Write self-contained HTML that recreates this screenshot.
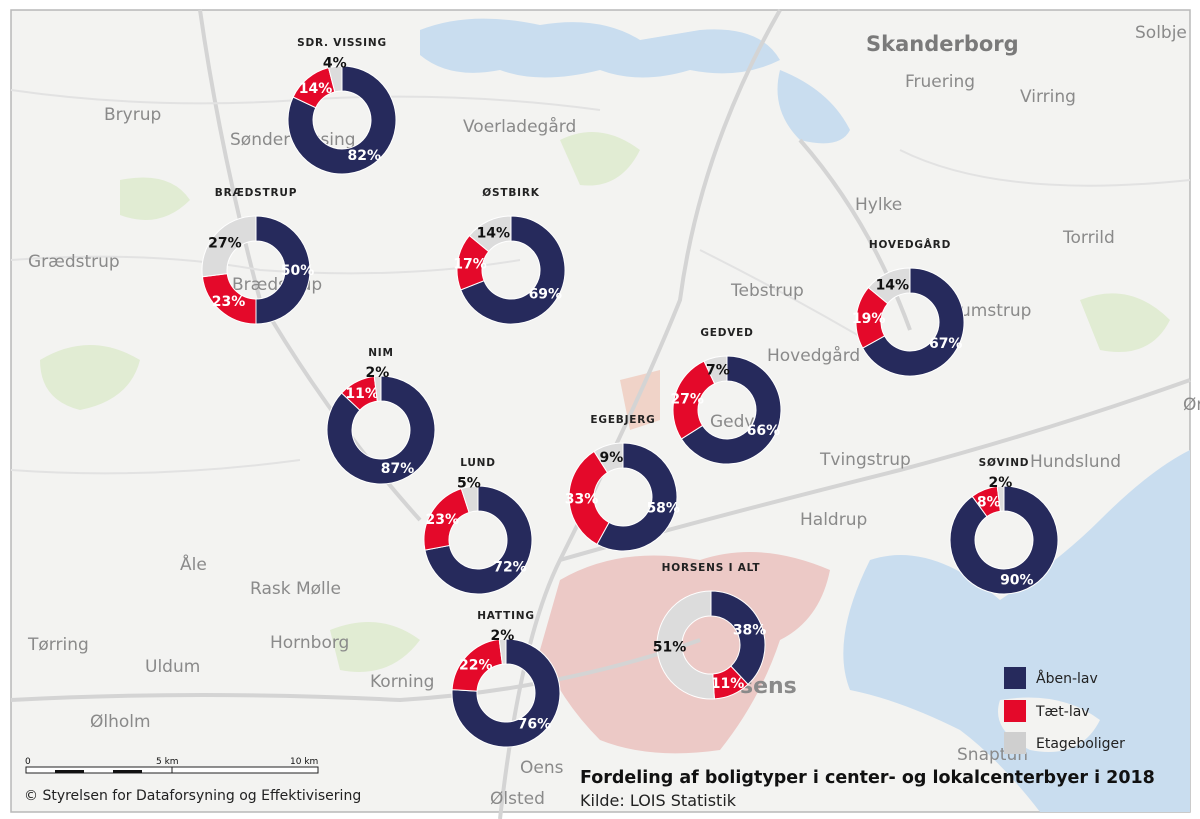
<!DOCTYPE html>
<html><head><meta charset="utf-8"><style>
html,body{margin:0;padding:0;background:#fff}
svg{display:block}
text{font-family:"DejaVu Sans","Liberation Sans",sans-serif}
</style></head><body>
<svg id="map" width="1200" height="819" viewBox="0 0 1200 819">
<rect x="0" y="0" width="1200" height="819" fill="#fff"/>
<g>
<rect x="11" y="10" width="1179" height="802" fill="#f3f3f1" stroke="#b8b8b8" stroke-width="1.5"/>
<path d="M420 30 Q470 10 540 25 Q600 15 640 40 L700 30 Q760 25 780 60 Q740 80 690 70 Q640 85 600 70 Q540 85 500 70 Q450 80 420 55 Z" fill="#c9ddef"/>
<path d="M780 70 Q830 90 850 130 Q840 150 800 140 Q770 110 780 70 Z" fill="#c9ddef"/>
<path d="M870 560 Q930 540 1000 600 Q1060 560 1100 520 Q1150 470 1190 450 L1190 812 L1040 812 Q1000 760 960 730 Q900 700 850 690 Q830 640 870 560 Z" fill="#c9ddef"/>
<path d="M1000 700 Q1060 690 1100 720 Q1080 760 1030 750 Q990 730 1000 700 Z" fill="#f3f3f1"/>
<path d="M560 580 Q620 545 700 560 Q760 540 830 570 Q820 620 780 640 Q760 700 720 750 Q650 760 600 740 Q560 700 540 650 Z" fill="#ecc9c6"/>
<path d="M620 380 L660 370 L660 420 L630 430 Z" fill="#f0d3c8"/>
<path d="M40 360 Q90 330 140 360 Q130 400 80 410 Q40 400 40 360 Z" fill="#e1ecd3"/>
<path d="M560 140 Q600 120 640 150 Q620 190 580 185 Z" fill="#e1ecd3"/>
<path d="M1080 300 Q1130 280 1170 320 Q1150 360 1100 350 Z" fill="#e1ecd3"/>
<path d="M120 180 Q170 170 190 200 Q160 230 120 215 Z" fill="#e1ecd3"/>
<path d="M330 630 Q380 610 420 640 Q390 680 340 670 Z" fill="#e1ecd3"/>
<g fill="none" stroke="#d4d4d4" stroke-width="4">
<path d="M780 10 Q700 150 680 300 Q640 400 560 560 Q520 640 500 819"/>
<path d="M11 700 Q200 690 400 700 Q560 690 700 640"/>
<path d="M560 560 Q700 520 900 470 Q1050 430 1190 380"/>
<path d="M200 10 Q220 150 260 300 Q330 420 420 520"/>
<path d="M800 140 Q870 220 910 330"/>
</g>
<g fill="none" stroke="#e2e2e2" stroke-width="2">
<path d="M11 90 Q150 110 300 100 Q450 90 600 110"/>
<path d="M11 260 Q150 250 260 270 Q400 280 520 260"/>
<path d="M11 470 Q150 480 300 460"/>
<path d="M900 150 Q1000 200 1190 180"/>
<path d="M700 250 Q800 300 900 360"/>
</g>
<g fill="#8a8a8a" font-size="17">
<text x="866" y="51" font-size="21" font-weight="bold" fill="#7a7a7a">Skanderborg</text>
<text x="1135" y="38">Solbje</text>
<text x="905" y="87">Fruering</text>
<text x="1020" y="102">Virring</text>
<text x="104" y="120">Bryrup</text>
<text x="230" y="145">Sønder Vissing</text>
<text x="463" y="132">Voerladegård</text>
<text x="855" y="210">Hylke</text>
<text x="1063" y="243">Torrild</text>
<text x="28" y="267">Grædstrup</text>
<text x="232" y="290">Brædstrup</text>
<text x="731" y="296">Tebstrup</text>
<text x="960" y="316">umstrup</text>
<text x="767" y="361">Hovedgård</text>
<text x="710" y="427">Gedved</text>
<text x="820" y="465">Tvingstrup</text>
<text x="1030" y="467">Hundslund</text>
<text x="800" y="525">Haldrup</text>
<text x="180" y="570">Åle</text>
<text x="250" y="594">Rask Mølle</text>
<text x="28" y="650">Tørring</text>
<text x="270" y="648">Hornborg</text>
<text x="145" y="672">Uldum</text>
<text x="370" y="687">Korning</text>
<text x="90" y="727">Ølholm</text>
<text x="957" y="760">Snaptun</text>
<text x="520" y="773">Oens</text>
<text x="490" y="804">Ølsted</text>
<text x="740" y="693" font-size="22" font-weight="bold" fill="#8a8a8a">sens</text>
<text x="1183" y="410">Ørti</text>
</g>
</g>
<g id="donuts"></g>
<g font-size="14" fill="#222">
<rect x="1004" y="667" width="22" height="22" fill="#262a5c"/>
<text x="1036" y="683">Åben-lav</text>
<rect x="1004" y="700" width="22" height="22" fill="#e4092a"/>
<text x="1036" y="716">Tæt-lav</text>
<rect x="1004" y="732" width="22" height="22" fill="#cfcfcf"/>
<text x="1036" y="748">Etageboliger</text>
</g>
<text x="580" y="783" font-size="17.5" font-weight="bold" fill="#111">Fordeling af boligtyper i center- og lokalcenterbyer i 2018</text>
<text x="580" y="806" font-size="16" fill="#222">Kilde: LOIS Statistik</text>
<g font-size="9" fill="#111">
<text x="25" y="764">0</text><text x="156" y="764">5 km</text><text x="290" y="764">10 km</text>
<rect x="26" y="767" width="292" height="6" fill="#fff" stroke="#222" stroke-width="1"/>
<rect x="55" y="770" width="29" height="3" fill="#111"/><rect x="113" y="770" width="29" height="3" fill="#111"/>
<line x1="172" y1="767" x2="172" y2="773" stroke="#222"/>
</g>
<text x="24" y="800" font-size="14" fill="#222" font-family="Liberation Sans">© Styrelsen for Dataforsyning og Effektivisering</text>
</svg>
<script>
const towns = ["SDR. VISSING","BRÆDSTRUP","ØSTBIRK","HOVEDGÅRD","NIM","GEDVED","EGEBJERG","LUND","SØVIND","HORSENS I ALT","HATTING"];
const abenLav = [82,50,69,67,87,66,58,72,90,38,76];
const taetLav = [14,23,17,19,11,27,33,23,8,11,22];
const etage = [4,27,14,14,2,7,9,5,2,51,2];
const centerX = [342,256,511,910,381,727,623,478,1004,711,506];
const centerY = [120,270,270,322,430,410,497,540,540,645,693];
const colors = ["#262a5c","#e4092a","#dcdcdc"];
const textCol = ["#fff","#fff","#111"];
const NS = "http://www.w3.org/2000/svg";
const root = document.getElementById("donuts");
const R = 54, r = 29;
function pt(cx,cy,rad,a){return [cx+rad*Math.sin(a), cy-rad*Math.cos(a)];}
function arc(cx,cy,a0,a1){
  const large = (a1-a0)>Math.PI?1:0;
  const p0=pt(cx,cy,R,a0),p1=pt(cx,cy,R,a1),q1=pt(cx,cy,r,a1),q0=pt(cx,cy,r,a0);
  return `M${p0[0]},${p0[1]}A${R},${R} 0 ${large} 1 ${p1[0]},${p1[1]}L${q1[0]},${q1[1]}A${r},${r} 0 ${large} 0 ${q0[0]},${q0[1]}Z`;
}
towns.forEach((t,i)=>{
  const cx=centerX[i], cy=centerY[i];
  const g=document.createElementNS(NS,"g");
  
  
  root.appendChild(g);
  const title=document.createElementNS(NS,"text");
  title.setAttribute("x",cx);title.setAttribute("y",cy-R-20);
  title.setAttribute("text-anchor","middle");title.setAttribute("font-size","10.5");
  title.setAttribute("font-weight","bold");title.setAttribute("letter-spacing","0.8");title.setAttribute("fill","#222");
  title.textContent=t;
  
  
  g.appendChild(title);
  const vals=[abenLav[i],taetLav[i],etage[i]];
  const tot=vals[0]+vals[1]+vals[2];
  let a=0;
  vals.forEach((v,k)=>{
    const a1=a+v/tot*2*Math.PI;
    const p=document.createElementNS(NS,"path");
    p.setAttribute("d",arc(cx,cy,a,Math.min(a1,a+2*Math.PI-1e-4)));
    p.setAttribute("fill",colors[k]);p.setAttribute("stroke","#fff");p.setAttribute("stroke-width","1");
    
    
    g.appendChild(p);
    const mid=(a+a1)/2;
    let lp, col;
    if(v<6){ lp=pt(cx,cy,R+4,mid); col="#111"; }
    else { lp=pt(cx,cy,(R+r)/2,mid); col=textCol[k]; }
    const tx=document.createElementNS(NS,"text");
    tx.setAttribute("x",lp[0]);tx.setAttribute("y",lp[1]+5);
    tx.setAttribute("text-anchor","middle");tx.setAttribute("font-size","14");
    tx.setAttribute("font-weight","bold");tx.setAttribute("fill",col);
    tx.textContent=v+"%";
    
    
    g.appendChild(tx);
    a=a1;
  });
});
</script>
</body></html>
